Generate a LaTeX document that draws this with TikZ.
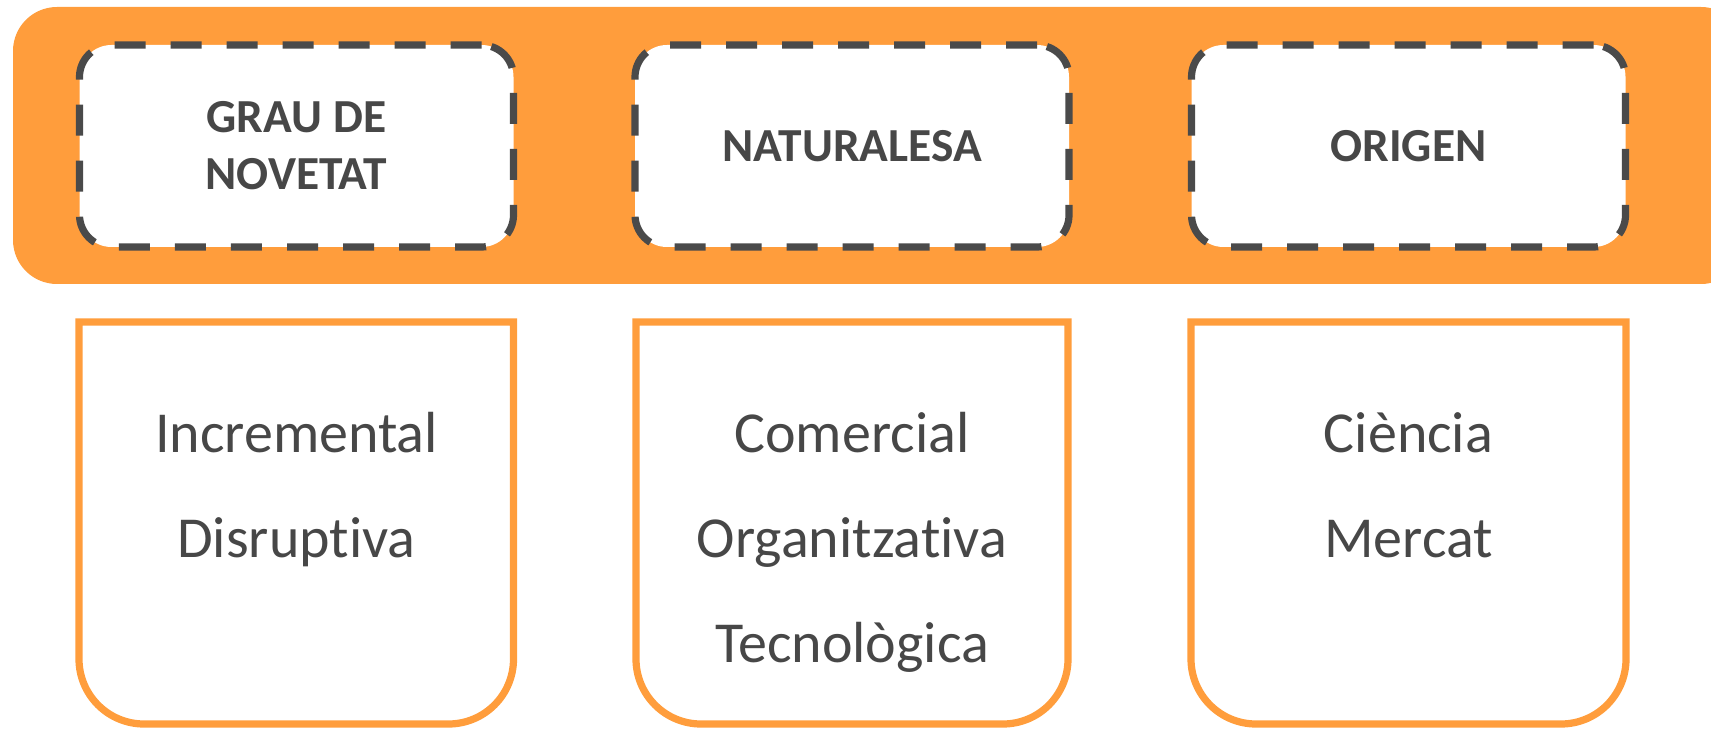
\documentclass[tikz,border=0pt]{standalone}
\usepackage{fontspec}
\setmainfont{Carlito}[Ligatures=NoCommon]
\definecolor{band}{HTML}{FF9D3C}
\definecolor{dashgray}{HTML}{4A4A4A}
\definecolor{txt}{HTML}{474747}
\begin{document}
\begin{tikzpicture}[x=0.5pt,y=0.5pt,
  headbox/.style={draw=dashgray, fill=white, line width=3.6pt, dash pattern=on 15.5pt off 12.5pt,
    rounded corners=16pt, minimum width=217pt, minimum height=101pt, inner sep=0pt,
    font=\fontsize{23.7}{28.5}\selectfont\bfseries, text=txt, align=center},
  catbox/.style={draw=band, line width=3.6pt},
  cattext/.style={font=\fontsize{29}{35}\selectfont, text=txt, anchor=base}
]
\useasboundingbox (0,0) rectangle (1711,729);
\begin{scope}
  \clip (0,0) rectangle (1711,729);
  \fill[band, rounded corners=22pt] (13,445) rectangle (1745,722);
\end{scope}

\node[headbox] (h1) at (296.5,583) {GRAU DE\\NOVETAT};
\node[headbox] (h2) at (852,583) {NATURALESA};
\node[headbox] (h3) at (1408.5,583) {ORIGEN};

\draw[catbox] (79,407) -- (79,70) arc[start angle=180, end angle=270, radius=65]
  -- (448.5,5) arc[start angle=270, end angle=360, radius=65] -- (513.5,407) -- cycle;
\draw[catbox] (636,407) -- (636,70) arc[start angle=180, end angle=270, radius=65]
  -- (1003,5) arc[start angle=270, end angle=360, radius=65] -- (1068,407) -- cycle;
\draw[catbox] (1191,407) -- (1191,70) arc[start angle=180, end angle=270, radius=65]
  -- (1561,5) arc[start angle=270, end angle=360, radius=65] -- (1626,407) -- cycle;

\node[cattext] (c1a) at (296.5,277) {Incremental};
\node[cattext] (c1b) at (296.5,172) {Disruptiva};
\node[cattext] (c2a) at (852,277) {Comercial};
\node[cattext] (c2b) at (852,172) {Organitzativa};
\node[cattext] (c2c) at (852,67) {Tecnològica};
\node[cattext] (c3a) at (1408.5,277) {Ciència};
\node[cattext] (c3b) at (1408.5,172) {Mercat};
\end{tikzpicture}
\end{document}
